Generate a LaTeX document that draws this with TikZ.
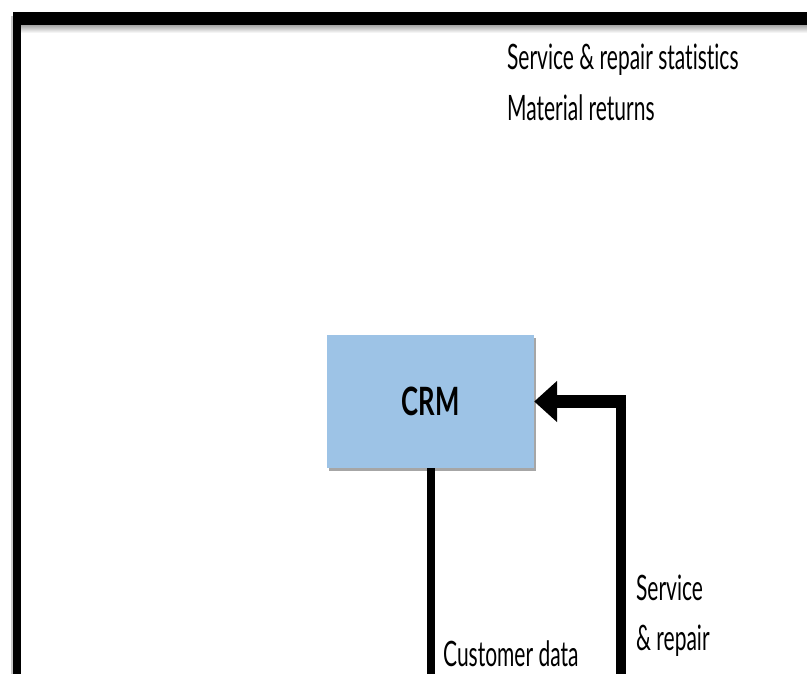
\documentclass[tikz,border=0pt]{standalone}
\usepackage{fontspec}
\setmainfont{Lato}[Ligatures=NoCommon]
\usetikzlibrary{arrows.meta,shadows}
\definecolor{crmblue}{HTML}{9DC3E6}
\begin{document}
\begin{tikzpicture}[x=1pt,y=-1pt,
  lbl/.style={font=\fontsize{35}{42}\selectfont, inner sep=0pt, anchor=base west, xscale=0.6},
  crmbox/.style={fill=crmblue, minimum width=207pt, minimum height=133pt, inner sep=0pt,
    font=\fontsize{39}{44}\selectfont\bfseries,
    drop shadow={shadow xshift=1.5pt, shadow yshift=-3pt, opacity=0.35, fill=black}},
  vline/.style={line width=8pt},
  hline/.style={line width=13pt},
  headtip/.style={-{Triangle[length=23pt,width=40pt]}}]
\clip (0,0) rectangle (807,674);
\fill[white] (0,0) rectangle (807,674);
% frame shadow
\fill[black!22] (11,16) rectangle (18,700);
\shade[top color=black!35, bottom color=white] (21,25) rectangle (820,33);
% frame
\fill[black] (13,12) rectangle (820,25);
\fill[black] (13,12) rectangle (21,700);
% CRM box
\node[crmbox] (crm) at (430.5,401.5) {\scalebox{0.66}[1]{CRM}};
% labels
\node[lbl] (top1) at (507,70) {Service \& repair statistics};
\node[lbl] (top2) at (507,121) {Material returns};
\node[lbl] (cust) at (443,666) {Customer data};
\node[lbl] (svc1) at (636,600) {Service};
\node[lbl] (svc2) at (636,650) {\& repair};
\node[lbl] (svc3) at (636,700) {statistics};
% connectors
\coordinate (cdEnd) at (431,700);
\coordinate (corner) at (621,401.5);
\coordinate (sEnd) at (621,700);
\draw[vline] (crm.south -| cdEnd) -- (cdEnd);
\draw[line width=10pt] (sEnd) -- ([yshift=6.5pt]corner);
\draw[hline,headtip] ([xshift=5pt]corner) -- (crm.east);
\end{tikzpicture}
\end{document}
